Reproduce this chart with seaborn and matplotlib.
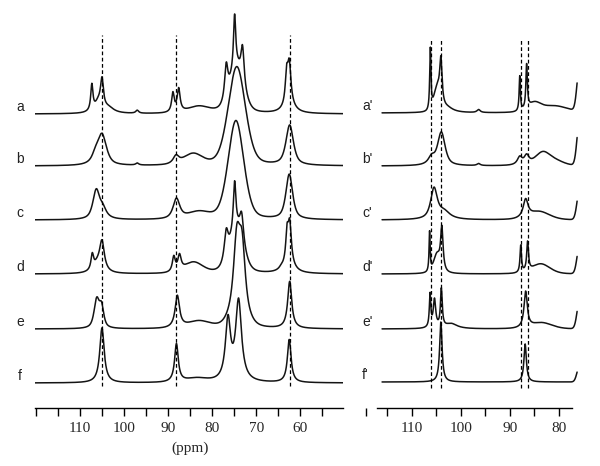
import numpy as np
import pandas as pd
import matplotlib
matplotlib.use("Agg")
import matplotlib.pyplot as plt
import seaborn as sns
from matplotlib.ticker import FixedLocator, NullFormatter

# ---------------- data ----------------
left_labels = ["a", "b", "c", "d", "e", "f"]
right_labels = ["a'", "b'", "c'", "d'", "e'", "f'"]
left_major = [110, 100, 90, 80, 70, 60]
left_minor = [120, 115, 105, 95, 85, 75, 65, 55]
right_major = [110, 100, 90, 80]
right_minor = [119.3, 115, 105, 95, 85]
left_dashes = [105.0, 88.1, 62.4]
right_dashes = [106.2, 104.0, 87.8, 86.3]

# peaks: (ppm, height, half-width, lorentzian fraction)
peaks_a = [(107.3, 26, 0.3, 1), (105.0, 28, 0.4, 1), (105.8, 10, 1.0, 1), (103.5, 5, 1.5, 1),
           (97.0, 3, 0.4, 1),
           (88.9, 19, 0.35, 1), (87.6, 23, 0.4, 1), (83.0, 7, 3.0, 0.5),
           (76.8, 34, 0.45, 1), (74.9, 53, 0.3, 1), (73.1, 38, 0.45, 1), (74.5, 44, 1.8, 0.3),
           (63.1, 28, 0.35, 1), (62.5, 40, 0.45, 1), (62.5, 8, 1.5, 1)]
peaks_b = [(106.5, 8, 1.0, 1), (105.0, 30, 1.2, 0.7), (97.0, 2, 0.4, 1),
           (88.2, 8, 0.8, 1), (84.3, 11, 2.5, 0.3),
           (74.4, 99, 2.3, 0.3),
           (62.4, 40, 1.0, 0.7)]
peaks_c = [(106.3, 28, 0.9, 0.7), (104.8, 10, 1.0, 1),
           (88.1, 20, 0.9, 0.8), (83.0, 7, 3.0, 0.3),
           (74.6, 99, 2.1, 0.3),
           (62.5, 45, 0.9, 0.7)]
peaks_d = [(107.2, 15, 0.35, 1), (105.0, 29, 0.65, 1), (106.0, 8, 1.2, 1),
           (88.7, 15, 0.4, 1), (87.4, 15, 0.45, 1), (84.2, 11, 2.5, 0.3),
           (76.8, 29, 0.55, 1), (74.9, 48, 0.35, 1), (73.3, 29, 0.55, 1), (74.5, 41, 1.8, 0.3),
           (64.3, 2, 0.6, 1), (63.0, 28, 0.35, 1), (62.4, 40, 0.45, 1), (62.6, 8, 1.5, 1)]
peaks_e = [(106.2, 28, 0.7, 0.7), (105.1, 20, 0.6, 0.7),
           (87.9, 32, 0.6, 1), (83.0, 7, 3.0, 0.3),
           (74.4, 60, 0.8, 0.7), (73.2, 55, 0.8, 0.7), (74.0, 30, 2.0, 0.3),
           (62.4, 47, 0.55, 1)]
peaks_f = [(105.0, 55, 0.6, 1), (88.1, 38, 0.5, 1), (83.5, 4, 3.0, 0.5),
           (76.4, 60, 0.7, 1), (74.0, 80, 0.8, 1),
           (62.5, 43, 0.5, 1)]

peaks_a2 = [(106.25, 62, 0.15, 1), (104.8, 22, 0.8, 0), (104.1, 40, 0.27, 1), (103.0, 6, 1.5, 1),
            (96.4, 3, 0.4, 1),
            (88.0, 35, 0.15, 1), (86.6, 44, 0.18, 1), (85.0, 8, 1.5, 0.3), (81.0, 7, 3.5, 0.3),
            (75.8, 45, 0.6, 0)]
peaks_b2 = [(106.0, 8, 0.8, 1), (104.0, 33, 0.9, 0.7), (96.4, 2, 0.4, 1),
            (88.0, 8, 0.6, 1), (86.6, 9, 0.6, 1), (83.3, 13, 1.8, 0.3), (80.5, 4, 2.0, 0.3),
            (75.8, 45, 0.6, 0)]
peaks_c2 = [(105.5, 30, 0.8, 0.8), (103.5, 8, 1.5, 1),
            (86.8, 18, 0.6, 1), (84.0, 8, 2.5, 0.3),
            (75.8, 30, 0.6, 0)]
peaks_d2 = [(106.4, 40, 0.13, 1), (103.9, 42, 0.3, 1), (104.9, 18, 0.8, 0.5),
            (87.8, 27, 0.18, 1), (86.4, 29, 0.22, 1), (83.7, 10, 2.2, 0.3),
            (75.8, 28, 0.6, 0)]
peaks_e2 = [(106.3, 33, 0.18, 1), (105.4, 28, 0.3, 1), (104.0, 38, 0.22, 1), (102.0, 5, 1.5, 1),
            (86.8, 36, 0.4, 1), (83.5, 6, 2.5, 0.3),
            (75.8, 28, 0.6, 0)]
peaks_f2 = [(104.1, 60, 0.3, 1), (86.9, 38, 0.3, 1),
            (75.8, 16, 0.6, 0)]

left_peaks = [peaks_a, peaks_b, peaks_c, peaks_d, peaks_e, peaks_f]
right_peaks = [peaks_a2, peaks_b2, peaks_c2, peaks_d2, peaks_e2, peaks_f2]

# ---------------- layout ----------------
W, H = 600, 466
left_base_px = [114, 166, 220, 274, 329, 383]
right_base_px = [113, 166, 220, 274, 329, 382]


def lineshape(x, peaks):
    y = np.zeros_like(x)
    for c, h, w, eta in peaks:
        lor = w * w / (w * w + (x - c) ** 2)
        gau = np.exp(-np.log(2) * ((x - c) / w) ** 2)
        y += h * (eta * lor + (1 - eta) * gau)
    return y


sns.set_style("white")
plt.rcParams["font.family"] = ["Liberation Sans", "DejaVu Sans"]

fig = plt.figure(figsize=(6, 4.66), dpi=100)


def make_axes(x0, x1, xlim):
    ax = fig.add_axes([x0 / W, 0, (x1 - x0) / W, 1])
    ax.set_xlim(*xlim)
    ax.set_ylim(0, H)
    ax.patch.set_alpha(0)
    for s in ["top", "left", "right"]:
        ax.spines[s].set_visible(False)
    ax.spines["bottom"].set_position(("data", H - 408))
    ax.spines["bottom"].set_color("black")
    ax.spines["bottom"].set_linewidth(1.0)
    ax.set_yticks([])
    ax.tick_params(axis="x", which="both", direction="out", length=5.8, width=1.0,
                   color="black", pad=4.5, labelsize=11, bottom=True)
    return ax


axL = make_axes(35, 343, (120.2, 50.3))
axR = make_axes(360, 582, (120.6, 75.3))
axL.spines["bottom"].set_bounds(120.2, 50.3)
axR.spines["bottom"].set_bounds(117.1, 77.3)

axL.xaxis.set_major_locator(FixedLocator(left_major))
axL.xaxis.set_minor_locator(FixedLocator(left_minor))
axR.xaxis.set_major_locator(FixedLocator(right_major))
axR.xaxis.set_minor_locator(FixedLocator(right_minor))

xL = np.linspace(120.2, 50.3, 2000)
xR = np.linspace(116.1, 76.3, 1600)

line_col = "#141414"
for peaks, base in zip(left_peaks, left_base_px):
    df = pd.DataFrame({"ppm": xL, "I": (H - base) + lineshape(xL, peaks)})
    sns.lineplot(data=df, x="ppm", y="I", ax=axL, color=line_col, lw=1.1,
                 estimator=None, sort=False, legend=False)
for peaks, base in zip(right_peaks, right_base_px):
    df = pd.DataFrame({"ppm": xR, "I": (H - base) + lineshape(xR, peaks)})
    sns.lineplot(data=df, x="ppm", y="I", ax=axR, color=line_col, lw=1.1,
                 estimator=None, sort=False, legend=False)

for ax, major in ((axL, left_major), (axR, right_major)):
    ax.set_xlabel("")
    ax.set_ylabel("")
    ax.xaxis.set_major_locator(FixedLocator(major))
    ax.xaxis.set_minor_formatter(NullFormatter())
    ax.set_xticklabels([str(t) for t in major], family="Liberation Serif", fontsize=11)

axL.vlines(left_dashes, H - 386, H - 35, colors="black", linestyles=(0, (3, 2)), lw=0.9)
axR.vlines(right_dashes, H - 388, H - 39, colors="black", linestyles=(0, (3, 2)), lw=0.9)

for lab, base in zip(left_labels, left_base_px):
    fig.text(20 / W, 1 - (base - 7) / H, lab, ha="center", va="center", fontsize=10, color="#222222")
for lab, base in zip(right_labels, right_base_px):
    fig.text(362 / W, 1 - (base - 7) / H, lab, ha="left", va="center", fontsize=10, color="#222222")

fig.text(190 / W, 1 - 448 / H, "(ppm)", ha="center", va="center", fontsize=11,
         family="Liberation Serif")

fig.savefig("out.png", dpi=100)
